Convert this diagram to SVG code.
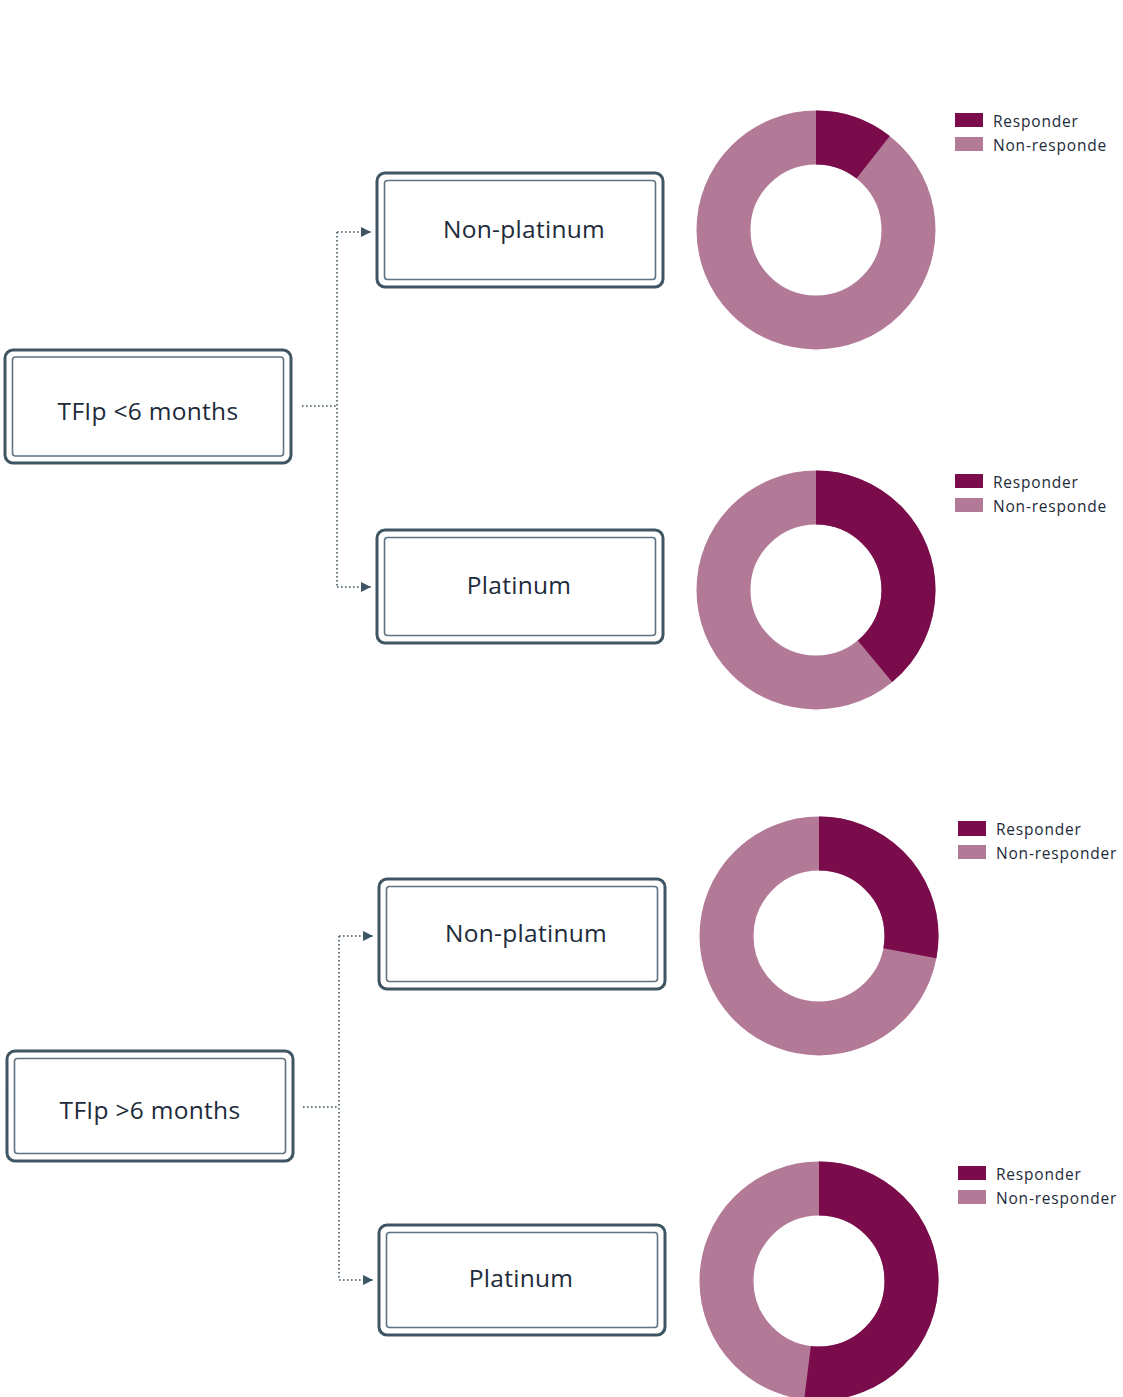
<svg xmlns="http://www.w3.org/2000/svg" width="1123" height="1397" viewBox="0 0 1123 1397">
<defs>
<style>
.outer{fill:#fff;stroke:#3e5563;stroke-width:3}
.inner{fill:none;stroke:#5e7282;stroke-width:1.6}
.lbl{font-family:"Open Sans","Liberation Sans",sans-serif;font-size:24.5px;fill:#1e2b3a;text-anchor:middle;letter-spacing:0.3px}
.leg{font-family:"Open Sans","Liberation Sans",sans-serif;font-size:15.5px;fill:#1e2b3a;letter-spacing:0.8px}
.conn{fill:none;stroke:#3e5563;stroke-width:1.6;stroke-dasharray:1.6 2.4}
.non{fill:none;stroke:#b37a98;stroke-width:54}
.resp{fill:none;stroke:#7a0c4c;stroke-width:54}
.sq-r{fill:#7a0c4c}
.sq-n{fill:#b37a98}
</style>
<marker id="arr" viewBox="0 0 10 10" refX="10" refY="5" markerWidth="10" markerHeight="10" markerUnits="userSpaceOnUse" orient="auto">
<path d="M0,0 L10,5 L0,10 Z" fill="#3e5563"/>
</marker>
</defs>
<rect width="1123" height="1397" fill="#ffffff"/>

<g id="connectors">
<path class="conn" d="M302,406 H337"/>
<path class="conn" d="M337,232 V587"/>
<path class="conn" d="M337,232 H371" marker-end="url(#arr)"/>
<path class="conn" d="M337,587 H371" marker-end="url(#arr)"/>
<path class="conn" d="M303,1107 H339"/>
<path class="conn" d="M339,936 V1280"/>
<path class="conn" d="M339,936 H373" marker-end="url(#arr)"/>
<path class="conn" d="M339,1280 H373" marker-end="url(#arr)"/>
</g>

<g id="node-tfip-lt6">
<rect class="outer" x="5" y="350" width="286" height="113" rx="8"/>
<rect class="inner" x="12.5" y="357" width="271" height="99" rx="3"/>
<text class="lbl" x="148" y="420">TFIp &lt;6 months</text>
</g>
<g id="node-nonplat-1">
<rect class="outer" x="377" y="173" width="286" height="114" rx="8"/>
<rect class="inner" x="384.5" y="180.5" width="271" height="99" rx="3"/>
<text class="lbl" x="524" y="238">Non-platinum</text>
</g>
<g id="node-plat-1">
<rect class="outer" x="377" y="530" width="286" height="113" rx="8"/>
<rect class="inner" x="384.5" y="537.5" width="271" height="98" rx="3"/>
<text class="lbl" x="519" y="594">Platinum</text>
</g>
<g id="node-tfip-gt6">
<rect class="outer" x="7" y="1051" width="286" height="110" rx="8"/>
<rect class="inner" x="14.5" y="1058.5" width="271" height="95" rx="3"/>
<text class="lbl" x="150" y="1119">TFIp &gt;6 months</text>
</g>
<g id="node-nonplat-2">
<rect class="outer" x="379" y="879" width="286" height="110" rx="8"/>
<rect class="inner" x="386.5" y="886.5" width="271" height="95" rx="3"/>
<text class="lbl" x="526" y="942">Non-platinum</text>
</g>
<g id="node-plat-2">
<rect class="outer" x="379" y="1225" width="286" height="110" rx="8"/>
<rect class="inner" x="386.5" y="1232.5" width="271" height="95" rx="3"/>
<text class="lbl" x="521" y="1287">Platinum</text>
</g>

<g id="donut-1">
<circle class="non" cx="816" cy="230" r="92.5"/>
<circle class="resp" cx="816" cy="230" r="92.5" pathLength="100" stroke-dasharray="10.6 100" transform="rotate(-90 816 230)"/>
<rect class="sq-r" x="955" y="113" width="28" height="14"/>
<rect class="sq-n" x="955" y="137" width="28" height="14"/>
<text class="leg" x="993" y="127">Responder</text>
<text class="leg" x="993" y="151">Non-responde</text>
</g>
<g id="donut-2">
<circle class="non" cx="816" cy="590" r="92.5"/>
<circle class="resp" cx="816" cy="590" r="92.5" pathLength="100" stroke-dasharray="39 100" transform="rotate(-90 816 590)"/>
<rect class="sq-r" x="955" y="474" width="28" height="14"/>
<rect class="sq-n" x="955" y="498" width="28" height="14"/>
<text class="leg" x="993" y="488">Responder</text>
<text class="leg" x="993" y="512">Non-responde</text>
</g>
<g id="donut-3">
<circle class="non" cx="819" cy="936" r="92.5"/>
<circle class="resp" cx="819" cy="936" r="92.5" pathLength="100" stroke-dasharray="28 100" transform="rotate(-90 819 936)"/>
<rect class="sq-r" x="958" y="821" width="28" height="15"/>
<rect class="sq-n" x="958" y="845" width="28" height="14"/>
<text class="leg" x="996" y="835">Responder</text>
<text class="leg" x="996" y="859">Non-responder</text>
</g>
<g id="donut-4">
<circle class="non" cx="819" cy="1281" r="92.5"/>
<circle class="resp" cx="819" cy="1281" r="92.5" pathLength="100" stroke-dasharray="52 100" transform="rotate(-90 819 1281)"/>
<rect class="sq-r" x="958" y="1166" width="28" height="14"/>
<rect class="sq-n" x="958" y="1190" width="28" height="14"/>
<text class="leg" x="996" y="1180">Responder</text>
<text class="leg" x="996" y="1204">Non-responder</text>
</g>
</svg>
